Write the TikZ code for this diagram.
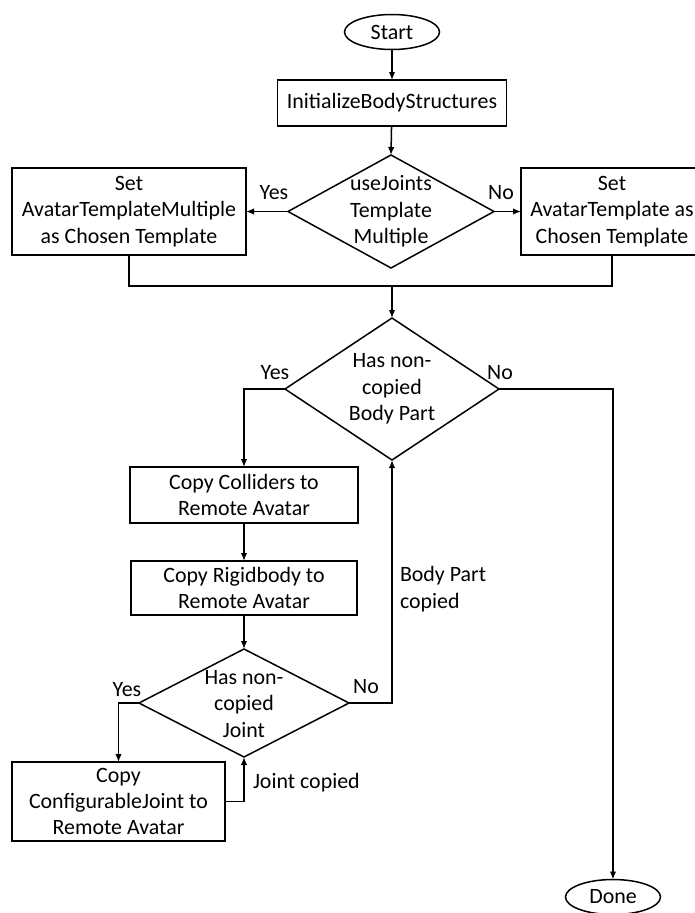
\documentclass[tikz,border=0pt]{standalone}
\usepackage{fontspec}
\setmainfont{Carlito}
\usetikzlibrary{shapes.geometric,arrows.meta}
\begin{document}
\begin{tikzpicture}[x=1pt,y=-1pt,
  every node/.style={font=\fontsize{21.9}{26.4}\selectfont, outer sep=0pt, inner sep=0pt},
  box/.style={draw, line width=1.5pt, rectangle, align=center},
  term/.style={draw, line width=1.5pt, ellipse},
  decision/.style={draw, line width=1.5pt, diamond},
  dtext/.style={align=center},
  lbl/.style={align=left},
  conn/.style={line width=1.5pt},
  arr/.style={line width=1.5pt, -{Latex[length=8pt,width=6.5pt]}}]
\useasboundingbox (0,0) rectangle (694,913);
% nodes
\node[term, minimum width=95, minimum height=35] (start) at (392,32) {Start};
\node[box, minimum width=229, minimum height=46] (init) at (392,103) {InitializeBodyStructures};
\node[decision, minimum width=206, minimum height=113] (d1) at (391,211.5) {};
\node[dtext] (d1t) at (d1) {useJoints\\Template\\Multiple};
\node[box, minimum width=234, minimum height=87] (L1) at (129,211.5) {Set\\AvatarTemplateMultiple\\as Chosen Template};
\node[box, minimum width=182, minimum height=87] (R1) at (612,211.5) {Set\\AvatarTemplate as\\Chosen Template};
\coordinate (m) at (392,286);
\node[decision, minimum width=214, minimum height=142] (d2) at (392,389) {};
\node[dtext] (d2t) at (d2) {Has non-\\copied\\Body Part};
\node[box, minimum width=228, minimum height=56] (cc) at (244,495) {Copy Colliders to\\Remote Avatar};
\node[box, minimum width=226, minimum height=54] (rb) at (244,588) {Copy Rigidbody to\\Remote Avatar};
\node[decision, minimum width=210, minimum height=108] (d3) at (244,703) {};
\node[dtext] (d3t) at (244,704) {Has non-\\copied\\Joint};
\node[box, minimum width=213, minimum height=79] (cj) at (118.5,801.5) {Copy\\ConfigurableJoint to\\Remote Avatar};
\node[term, minimum width=95, minimum height=35] (done) at (613,897) {Done};
% connectors
\draw[arr] (start) -- (init);
\draw[arr] (init) -- (d1.north);
\draw[arr] (d1.west) -- (L1.east);
\draw[arr] (d1.east) -- (R1.west);
\draw[conn] (L1.south) |- (m);
\draw[conn] (R1.south) |- (m);
\draw[arr] (m) -- (d2.north);
\draw[arr] (d2.west) -| (cc.north);
\draw[arr] (d2.east) -| (done.north);
\draw[arr] (cc) -- (rb);
\draw[arr] (rb) -- (d3.north);
\draw[arr] (d3.east) -| (d2.south);
\draw[arr] (d3.west) -| (cj.north);
\draw[arr] (cj.east) -| (d3.south);
% labels
\node (y1) at (274,193) {Yes};
\node (n1) at (501,193) {No};
\node (y2) at (275,373) {Yes};
\node (n2) at (500,373) {No};
\node (y3) at (127,690) {Yes};
\node (n3) at (366,687) {No};
\node[lbl, anchor=west] (bpc) at (400,589) {Body Part\\copied};
\node[anchor=west] (jc) at (253,783) {Joint copied};
\end{tikzpicture}
\end{document}
